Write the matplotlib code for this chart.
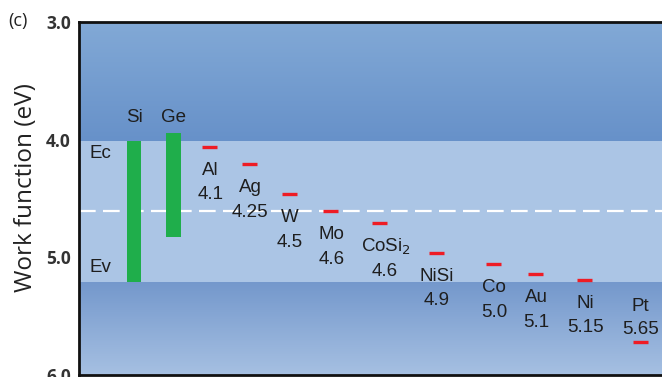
import numpy as np
import matplotlib
matplotlib.use("Agg")
import matplotlib.pyplot as plt
from matplotlib.colors import LinearSegmentedColormap

# ---- data ----
semis = ["Si", "Ge"]
semi_top = [4.01, 3.94]      # conduction-band edge (eV)
semi_bot = [5.21, 4.83]      # valence-band edge (eV)

metals = ["Al", "Ag", "W", "Mo", "CoSi$_2$", "NiSi", "Co", "Au", "Ni", "Pt"]
metal_wf = [4.06, 4.21, 4.46, 4.61, 4.71, 4.96, 5.06, 5.14, 5.19, 5.72]
metal_labels = ["4.1", "4.25", "4.5", "4.6", "4.6", "4.9", "5.0", "5.1", "5.15", "5.65"]

band_top = 4.01
band_bot = 5.21
midgap = 4.61

yticks = [3.0, 4.0, 5.0, 6.0]
ytick_labels = ["3.0", "4.0", "5.0", "6.0"]

# ---- layout (horizontal placement of each column) ----
semi_x = [55, 94.5]
metal_x = [130.5, 170, 210, 251.5, 300.5, 357, 414, 456.5, 505.5, 561.5]
XMAX = 583
FS = 13.5
FAM = "Liberation Sans"
TXT = "#1e1e1e"

fig = plt.figure(figsize=(6.62, 3.77), dpi=100)
ax = fig.add_axes([79 / 662, 2 / 377, 583 / 662, 353 / 377])

# background gradients (value 0 -> first colour at the listed 'bottom' extent)
top_cmap = LinearSegmentedColormap.from_list("t", ["#6791c9", "#82a9d6"])
bot_cmap = LinearSegmentedColormap.from_list("b", ["#7498cc", "#a6c0e2"])
grad = np.linspace(0, 1, 256).reshape(-1, 1)
ax.imshow(grad, cmap=top_cmap, aspect="auto", extent=[0, XMAX, band_top, 3.0],
          origin="lower", zorder=0)
ax.imshow(grad, cmap=bot_cmap, aspect="auto", extent=[0, XMAX, band_bot, 6.0],
          origin="lower", zorder=0)
ax.axhspan(band_top, band_bot, color="#abc5e5", zorder=0.5, lw=0)
ax.set_ylim(6.0, 3.0)
ax.set_xlim(0, XMAX)

# midgap dashed line
ax.axhline(midgap, color="white", lw=1.6, dashes=(7.5, 3.3), zorder=1)

# semiconductor bands
for x, t, b, name in zip(semi_x, semi_top, semi_bot, semis):
    ax.bar(x, b - t, bottom=t, width=14.5, color="#1fae4b", zorder=2, lw=0)
    ax.text(x, 3.815, name, ha="center", va="center", fontsize=FS,
            family=FAM, color=TXT)

ax.text(21, 4.12, "Ec", ha="center", va="center", fontsize=FS, family=FAM, color=TXT)
ax.text(21, 5.09, "Ev", ha="center", va="center", fontsize=FS, family=FAM, color=TXT)

# metal work functions
for x, wf, name, lab in zip(metal_x, metal_wf, metals, metal_labels):
    ax.plot([x - 7.5, x + 7.5], [wf, wf], color="#ee1c25", lw=2.4,
            solid_capstyle="butt", zorder=3)
    if name == "Pt":
        ax.text(x, wf - 0.305, name, ha="center", va="center", fontsize=FS,
                family=FAM, color=TXT)
        ax.text(x, wf - 0.11, lab, ha="center", va="center", fontsize=FS,
                family=FAM, color=TXT)
    else:
        dx = 6 if "Si$" in name else 1
        ax.text(x + dx, wf + 0.2, name, ha="center", va="center", fontsize=FS,
                family=FAM, color=TXT)
        ax.text(x + dx * 0.9, wf + 0.41, lab, ha="center", va="center", fontsize=FS,
                family=FAM, color=TXT)

# axes styling
for s in ["left", "top", "bottom"]:
    ax.spines[s].set_linewidth(2)
    ax.spines[s].set_color("#111111")
ax.spines["right"].set_visible(False)
ax.set_xticks([])
ax.set_yticks(yticks)
ax.set_yticklabels(ytick_labels, fontsize=12.5, fontweight="bold", color="#333333",
                   family="Open Sans")
ax.tick_params(axis="y", length=0, pad=6)
ax.set_ylabel("Work function (eV)", fontsize=17.5, family="Open Sans", color="#222222")
ax.yaxis.set_label_coords(-0.07, 0.53)

fig.text(8 / 662, 1 - 21 / 377, "(c)", fontsize=13, family="Open Sans",
         color="#222222", va="center", ha="left")

fig.savefig("out.png", dpi=100)
